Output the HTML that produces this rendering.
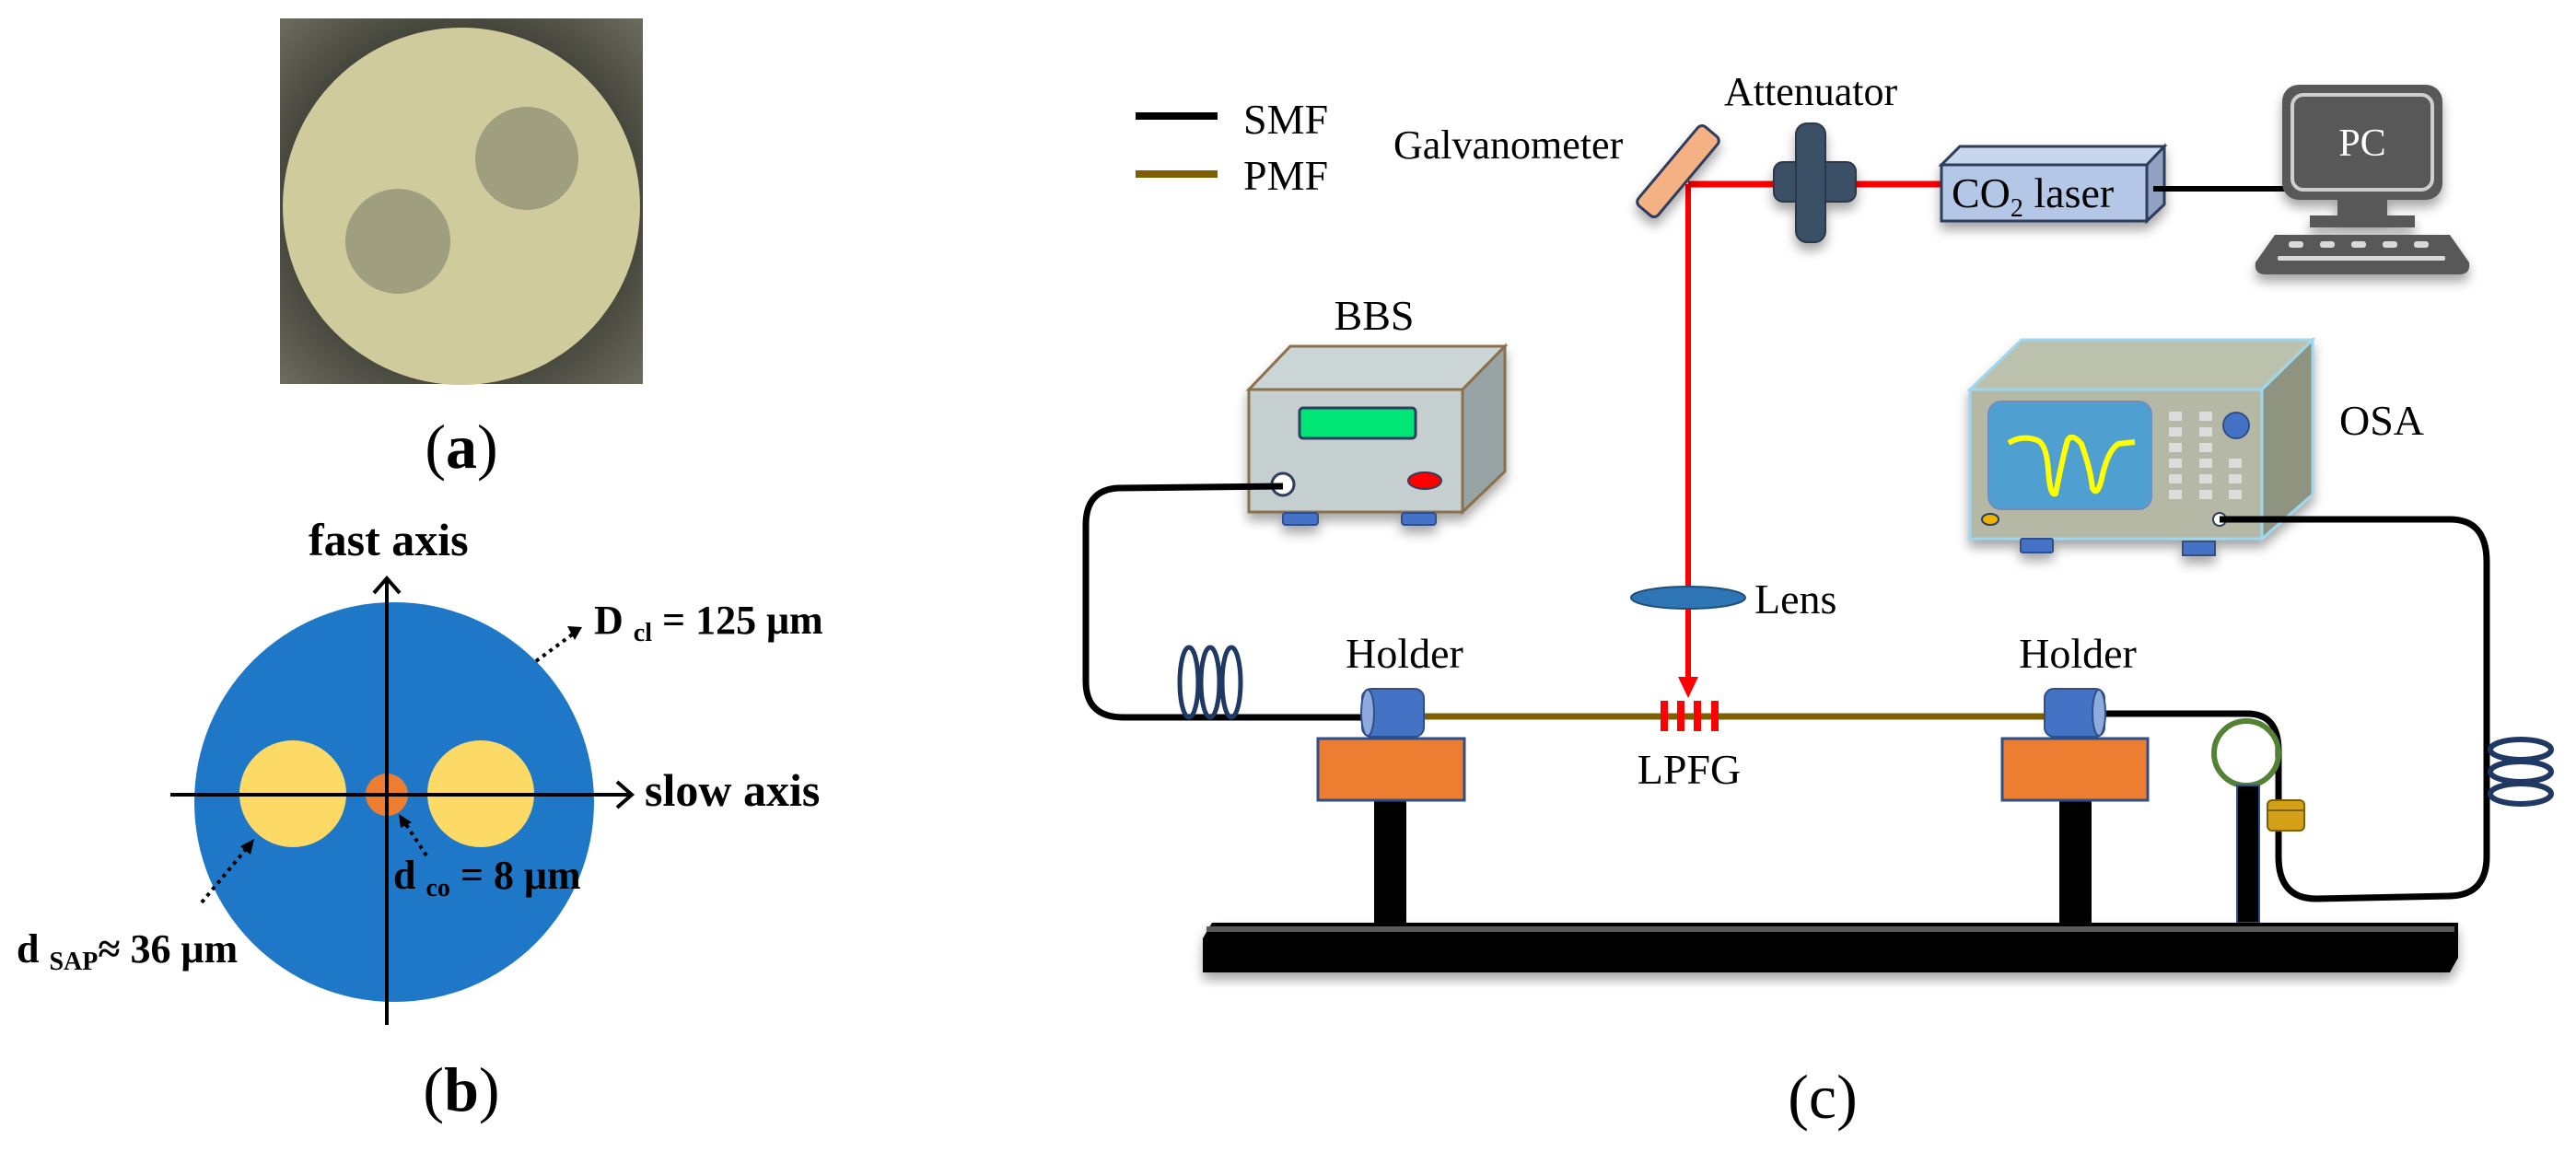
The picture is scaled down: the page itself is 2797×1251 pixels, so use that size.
<!DOCTYPE html>
<html><head><meta charset="utf-8"><style>
html,body{margin:0;padding:0;background:#fff;}
svg{display:block;font-family:"Liberation Serif","Times New Roman",serif;}
svg text{font-family:"Liberation Serif","Times New Roman",serif;}
</style></head><body>
<svg width="2797" height="1251" viewBox="0 0 2797 1251" xmlns="http://www.w3.org/2000/svg" font-family="Liberation Serif, serif">
<defs>
<radialGradient id="bg" cx="0.5" cy="0.5" r="0.7"><stop offset="0.5" stop-color="#2f3029"/><stop offset="1" stop-color="#6b6b5e"/></radialGradient>
<filter id="sh" x="-20%" y="-20%" width="140%" height="150%"><feDropShadow dx="0" dy="8" stdDeviation="6" flood-color="#000" flood-opacity="0.35"/></filter>
</defs>

<!-- (a) photo -->
<rect x="304" y="20" width="394" height="397" fill="url(#bg)"/>
<circle cx="501" cy="224" r="194" fill="#cfcb9c"/>
<circle cx="432" cy="262" r="57" fill="#9f9e7f"/>
<circle cx="572" cy="172" r="56" fill="#9f9e7f"/>
<text x="501" y="508" font-size="68" text-anchor="middle" font-family="Liberation Serif, serif">(<tspan font-weight="bold">a</tspan>)</text>

<!-- (b) -->
<circle cx="428" cy="871" r="217" fill="#1f78c7"/>
<circle cx="318" cy="862" r="58" fill="#fdd966"/>
<circle cx="522" cy="862" r="58" fill="#fdd966"/>
<circle cx="420" cy="863" r="23" fill="#ed7d31"/>
<line x1="420" y1="1113" x2="420" y2="630" stroke="#000" stroke-width="4"/>
<path d="M406,644 L420,628 L434,644" fill="none" stroke="#000" stroke-width="4"/>
<line x1="185" y1="863" x2="684" y2="863" stroke="#000" stroke-width="4"/>
<path d="M670,849 L686,863 L670,877" fill="none" stroke="#000" stroke-width="4"/>
<text x="335" y="603" font-size="50" font-weight="bold" font-family="Liberation Serif, serif">fast axis</text>
<text x="700" y="875" font-size="50" font-weight="bold" font-family="Liberation Serif, serif">slow axis</text>
<line x1="582" y1="718" x2="624" y2="687" stroke="#000" stroke-width="4" stroke-dasharray="4,5"/>
<path d="M616,680 L632,681 L624,695 z" fill="#000"/>
<text x="645" y="688" font-size="44" font-weight="bold" font-family="Liberation Serif, serif">D <tspan font-size="28" dy="8">cl</tspan><tspan dy="-8"> = 125 μm</tspan></text>
<line x1="463" y1="929" x2="440" y2="894" stroke="#000" stroke-width="4" stroke-dasharray="4,5"/>
<path d="M433,884 L447,893 L435,899 z" fill="#000"/>
<text x="427" y="965" font-size="44" font-weight="bold" font-family="Liberation Serif, serif">d <tspan font-size="28" dy="8">co</tspan><tspan dy="-8"> = 8 μm</tspan></text>
<line x1="219" y1="980" x2="268" y2="921" stroke="#000" stroke-width="4" stroke-dasharray="4,5"/>
<path d="M276,911 L272,928 L261,919 z" fill="#000"/>
<text x="18" y="1045" font-size="44" font-weight="bold" font-family="Liberation Serif, serif">d <tspan font-size="28" dy="8">SAP</tspan><tspan dy="-8">≈ 36 μm</tspan></text>
<text x="501" y="1206" font-size="68" text-anchor="middle" font-family="Liberation Serif, serif">(<tspan font-weight="bold">b</tspan>)</text>

<!-- (c) legend -->
<line x1="1233" y1="126" x2="1322" y2="126" stroke="#000" stroke-width="8"/>
<text x="1350" y="145" font-size="46" font-family="Liberation Serif, serif">SMF</text>
<line x1="1233" y1="189" x2="1322" y2="189" stroke="#7f6000" stroke-width="8"/>
<text x="1350" y="206" font-size="46" font-family="Liberation Serif, serif">PMF</text>

<text x="1513" y="172" font-size="44" font-family="Liberation Serif, serif">Galvanometer</text>
<text x="1872" y="114" font-size="44" font-family="Liberation Serif, serif">Attenuator</text>

<!-- beams -->
<line x1="1833" y1="200" x2="2108" y2="200" stroke="#ff0000" stroke-width="7"/>
<line x1="1833" y1="200" x2="1833" y2="740" stroke="#ff0000" stroke-width="6"/>
<path d="M1822,735 L1844,735 L1833,758 z" fill="#ff0000"/>
<g filter="url(#sh)"><rect x="1766" y="172" width="112" height="28" rx="6" fill="#f4b183" stroke="#2f3e5c" stroke-width="3" transform="rotate(-50 1822 186)"/></g>
<g filter="url(#sh)">
<rect x="1926" y="176" width="89" height="43" rx="10" fill="#3b4f66" stroke="#2a394a" stroke-width="2"/>
<rect x="1950" y="134" width="32" height="129" rx="12" fill="#3b4f66" stroke="#2a394a" stroke-width="2"/>
</g>
<g filter="url(#sh)">
<path d="M2108,179 L2128,159 L2350,159 L2331,179 z" fill="#c8d6ee" stroke="#2f3e5c" stroke-width="3"/>
<path d="M2331,179 L2350,159 L2350,222 L2331,240 z" fill="#8fa2c4" stroke="#2f3e5c" stroke-width="3"/>
<rect x="2108" y="179" width="223" height="61" fill="#b4c7e7" stroke="#2f3e5c" stroke-width="3"/>
</g>
<text x="2119" y="225" font-size="46" font-family="Liberation Serif, serif">CO<tspan font-size="28" dy="10">2</tspan><tspan dy="-10"> laser</tspan></text>
<line x1="2338" y1="205" x2="2482" y2="205" stroke="#000" stroke-width="6"/>
<g filter="url(#sh)" fill="#595959">
<rect x="2478" y="92" width="174" height="125" rx="18"/>
<rect x="2538" y="215" width="54" height="22"/>
<rect x="2508" y="234" width="114" height="13"/>
<path d="M2470,255 L2660,255 L2681,285 Q2683,298 2670,298 L2460,298 Q2447,298 2449,285 z"/>
</g>
<rect x="2489" y="103" width="152" height="103" rx="12" fill="none" stroke="#cfcfcf" stroke-width="4"/>
<text x="2565" y="169" font-size="42" fill="#fff" text-anchor="middle" font-family="Liberation Serif, serif">PC</text>
<g fill="#d9d9d9"><rect x="2485" y="262" width="16" height="7" rx="3"/><rect x="2519" y="262" width="16" height="7" rx="3"/><rect x="2553" y="262" width="16" height="7" rx="3"/><rect x="2587" y="262" width="16" height="7" rx="3"/><rect x="2621" y="262" width="16" height="7" rx="3"/><rect x="2473" y="278" width="182" height="5" rx="2"/></g>

<!-- BBS -->
<text x="1492" y="358" font-size="46" text-anchor="middle" font-family="Liberation Serif, serif">BBS</text>
<g filter="url(#sh)">
<path d="M1356,423 L1401,376 L1634,376 L1588,423 z" fill="#cbd5d6" stroke="#8b6f4e" stroke-width="3"/>
<path d="M1588,423 L1634,376 L1634,512 L1588,556 z" fill="#97a3a5" stroke="#8b6f4e" stroke-width="3"/>
<rect x="1356" y="423" width="232" height="133" fill="#c5cfd0" stroke="#8b6f4e" stroke-width="3"/>
<rect x="1393" y="557" width="38" height="13" rx="3" fill="#4472c4" stroke="#2f4f8a" stroke-width="2"/>
<rect x="1522" y="557" width="37" height="13" rx="3" fill="#4472c4" stroke="#2f4f8a" stroke-width="2"/>
</g>
<rect x="1411" y="443" width="126" height="33" rx="4" fill="#00e676" stroke="#2f3e5c" stroke-width="3"/>
<circle cx="1393" cy="526" r="12" fill="#fff" stroke="#2f3e5c" stroke-width="3"/>
<ellipse cx="1547" cy="522" rx="18" ry="9" fill="#ff0000" stroke="#2f3e5c" stroke-width="2"/>

<!-- OSA -->
<g filter="url(#sh)">
<path d="M2139,423 L2195,369 L2511,369 L2456,423 z" fill="#bcc1ad" stroke="#9dd8f0" stroke-width="3"/>
<path d="M2456,423 L2511,369 L2511,537 L2456,585 z" fill="#8e947f" stroke="#9dd8f0" stroke-width="3"/>
<rect x="2139" y="423" width="317" height="162" fill="#b4b8a4" stroke="#9dd8f0" stroke-width="3"/>
<rect x="2194" y="585" width="35" height="15" rx="2" fill="#4472c4" stroke="#2f4f8a" stroke-width="2"/>
<rect x="2370" y="588" width="35" height="15" fill="#4472c4" stroke="#2f4f8a" stroke-width="2"/>
</g>
<rect x="2159" y="436" width="177" height="117" rx="14" fill="#4f9fd1" stroke="#6a8fc0" stroke-width="2"/>
<path d="M2181,481 Q2195,472 2212,478 Q2222,482 2224,510 Q2226,540 2232,536 Q2240,495 2245,478 Q2250,470 2260,482 Q2270,510 2272,530 Q2277,540 2282,520 Q2288,490 2300,482 L2318,480" fill="none" stroke="#ffff00" stroke-width="6" stroke-linejoin="round"/>
<g fill="#dcdcdc">
<rect x="2355" y="447" width="14" height="10"/><rect x="2388" y="447" width="14" height="10"/>
<rect x="2355" y="464" width="14" height="10"/><rect x="2388" y="464" width="14" height="10"/>
<rect x="2355" y="481" width="14" height="10"/><rect x="2388" y="481" width="14" height="10"/>
<rect x="2355" y="498" width="14" height="10"/><rect x="2388" y="498" width="14" height="10"/><rect x="2420" y="498" width="14" height="10"/>
<rect x="2355" y="515" width="14" height="10"/><rect x="2388" y="515" width="14" height="10"/><rect x="2420" y="515" width="14" height="10"/>
<rect x="2355" y="532" width="14" height="10"/><rect x="2388" y="532" width="14" height="10"/><rect x="2420" y="532" width="14" height="10"/>
</g>
<circle cx="2428" cy="462" r="14" fill="#4472c4" stroke="#2f4f8a" stroke-width="2"/>
<ellipse cx="2161" cy="564" rx="9" ry="6" fill="#f0b400" stroke="#2f3e5c" stroke-width="2"/>
<circle cx="2410" cy="564" r="7" fill="#fff" stroke="#2f3e5c" stroke-width="2"/>
<text x="2540" y="472" font-size="46" font-family="Liberation Serif, serif">OSA</text>

<!-- fibers -->
<path d="M1393,528 L1214,530 Q1179,532 1179,570 L1179,740 Q1179,779 1220,779 L1479,779" fill="none" stroke="#000" stroke-width="7"/>
<g fill="none" stroke="#1f3864" stroke-width="5">
<ellipse cx="1291" cy="741" rx="10" ry="38"/><ellipse cx="1314" cy="741" rx="10" ry="38"/><ellipse cx="1337" cy="741" rx="10" ry="38"/>
</g>
<line x1="1546" y1="778" x2="2220" y2="778" stroke="#7f6000" stroke-width="7"/>
<path d="M2285,775 L2440,775 Q2474,775 2474,815 L2474,930 Q2474,976 2515,976 L2660,973 Q2700,972 2700,930 L2700,610 Q2700,564 2660,564 L2410,564" fill="none" stroke="#000" stroke-width="7"/>
<g fill="none" stroke="#1f3864" stroke-width="6">
<ellipse cx="2737" cy="814" rx="33" ry="11"/><ellipse cx="2737" cy="838" rx="33" ry="11"/><ellipse cx="2737" cy="862" rx="33" ry="11"/>
</g>
<circle cx="2439" cy="818" r="35" fill="none" stroke="#548235" stroke-width="6"/>
<rect x="2462" y="869" width="40" height="33" rx="5" fill="#d4a017" stroke="#7f6000" stroke-width="2"/>
<line x1="2462" y1="880" x2="2502" y2="880" stroke="#7f6000" stroke-width="2"/>

<ellipse cx="1833" cy="649" rx="62" ry="12" fill="#2e75b6" stroke="#1f4e79" stroke-width="2"/>
<text x="1905" y="666" font-size="46" font-family="Liberation Serif, serif">Lens</text>

<g fill="#ff0000"><rect x="1803" y="761" width="8" height="33"/><rect x="1821" y="761" width="8" height="33"/><rect x="1839" y="761" width="8" height="33"/><rect x="1858" y="761" width="8" height="33"/></g>
<text x="1834" y="851" font-size="46" text-anchor="middle" font-family="Liberation Serif, serif">LPFG</text>

<text x="1525" y="725" font-size="46" text-anchor="middle" font-family="Liberation Serif, serif">Holder</text>
<text x="2256" y="725" font-size="46" text-anchor="middle" font-family="Liberation Serif, serif">Holder</text>
<rect x="1492" y="869" width="35" height="133" fill="#000"/>
<rect x="2236" y="869" width="35" height="133" fill="#000"/>
<rect x="2429" y="853" width="24" height="149" fill="#000" stroke="#2f4f8a" stroke-width="2"/>
<rect x="1431" y="802" width="159" height="67" fill="#ed7d31" stroke="#2f4f8a" stroke-width="3"/>
<rect x="2174" y="802" width="158" height="67" fill="#ed7d31" stroke="#2f4f8a" stroke-width="3"/>
<rect x="1479" y="748" width="67" height="52" rx="10" fill="#4472c4" stroke="#2f4f8a" stroke-width="2"/>
<ellipse cx="1485" cy="774" rx="7" ry="25" fill="#8faadc" stroke="#2f4f8a" stroke-width="2"/>
<rect x="2220" y="748" width="65" height="52" rx="10" fill="#4472c4" stroke="#2f4f8a" stroke-width="2"/>
<ellipse cx="2279" cy="774" rx="7" ry="25" fill="#8faadc" stroke="#2f4f8a" stroke-width="2"/>

<g filter="url(#sh)">
<path d="M1306,1019 L1316,1002 L2669,1002 L2669,1040 L2660,1056 L1306,1056 z" fill="#000"/>
<rect x="1310" y="1006" width="1355" height="6" fill="#5a5a5a"/>
</g>

<text x="1979" y="1214" font-size="68" text-anchor="middle" font-family="Liberation Serif, serif">(c)</text>
</svg>
</body></html>
